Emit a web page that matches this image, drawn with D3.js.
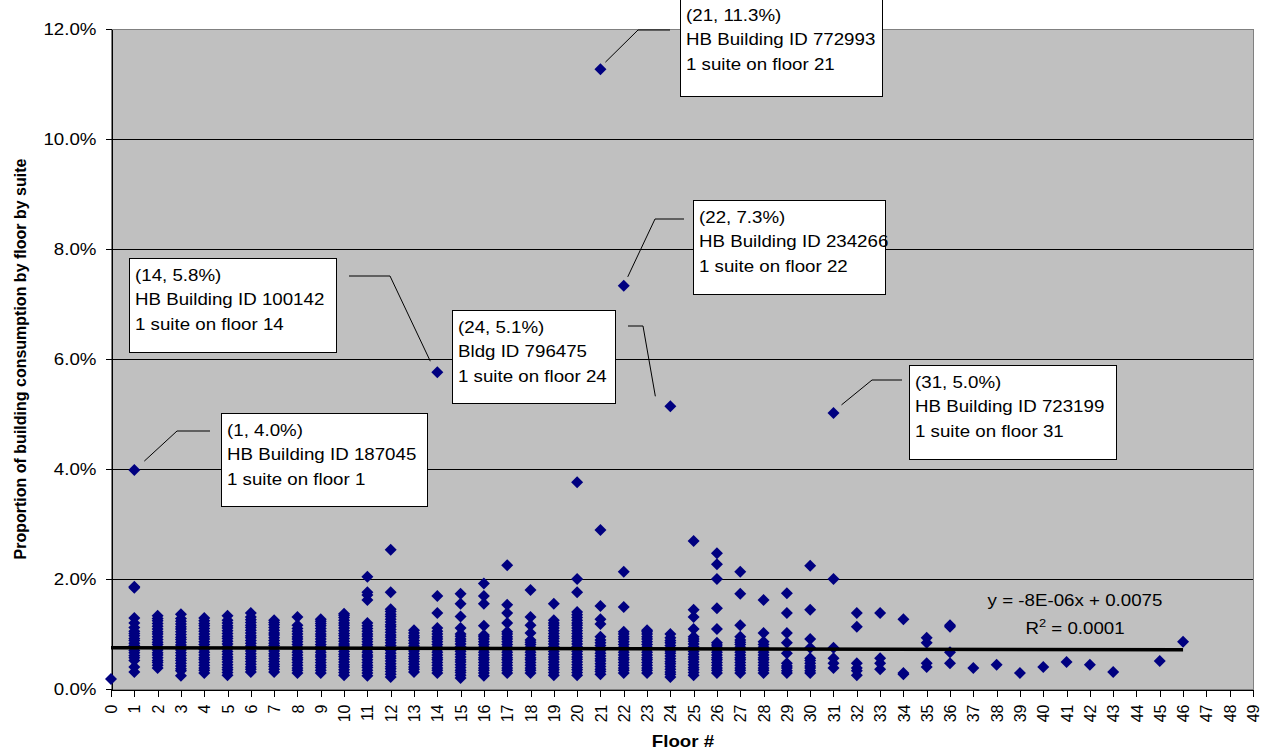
<!DOCTYPE html>
<html>
<head>
<meta charset="utf-8">
<script src="https://cdnjs.cloudflare.com/ajax/libs/d3/7.8.5/d3.min.js"></script>
<style>
    body { margin: 0; background: #fff; }
    svg text { font-family: "Liberation Sans", Arial, sans-serif; fill: #000; }
    .plot-bg { fill: #c0c0c0; stroke: #808080; stroke-width: 1px; }
    .grid line { stroke: #000; stroke-width: 1px; shape-rendering: crispEdges; }
    .axis path, .axis line { stroke: #000; stroke-width: 1px; shape-rendering: crispEdges; }
    .axis text { font-size: 16px; }
    .point { fill: #000080; }
    .trend { stroke: #000; stroke-width: 3.5px; fill: none; }
    .callout rect { fill: #fff; stroke: #000; stroke-width: 1px; shape-rendering: crispEdges; }
    .callout text { font-size: 16px; }
    .leader { stroke: #000; stroke-width: 1px; fill: none; }
    .axis-title { font-size: 16px; font-weight: bold; }
    .equation { font-size: 16px; }
</style>
</head>
<body>
<svg id="chart" width="1262" height="756"></svg>
<script>
    // floors and the share of building consumption (%) of each suite on that floor
    const floorNumbers = [0, 1, 2, 3, 4, 5, 6, 7, 8, 9, 10, 11, 12, 13, 14, 15, 16, 17, 18, 19, 20, 21, 22, 23,
        24, 25, 26, 27, 28, 29, 30, 31, 32, 33, 34, 35, 36, 37, 38, 39, 40, 41, 42, 43, 44, 45, 46];
    const suiteShares = [
        [0.18],
        [0.31, 0.40, 0.52, 0.57, 0.61, 0.66, 0.70, 0.74, 0.79, 0.83, 0.88, 0.92, 0.97, 1.01, 1.05, 1.12, 1.20, 1.29, 1.84, 1.86, 3.98],
        [0.38, 0.43, 0.48, 0.52, 0.57, 0.62, 0.66, 0.71, 0.76, 0.81, 0.85, 0.90, 0.95, 1.00, 1.04, 1.09, 1.14, 1.19, 1.24, 1.28, 1.33],
        [0.24, 0.33, 0.37, 0.42, 0.47, 0.52, 0.56, 0.61, 0.66, 0.71, 0.75, 0.80, 0.85, 0.90, 0.94, 0.99, 1.04, 1.09, 1.13, 1.18, 1.23, 1.28, 1.36],
        [0.29, 0.34, 0.38, 0.43, 0.48, 0.53, 0.57, 0.62, 0.67, 0.72, 0.76, 0.81, 0.86, 0.91, 0.95, 1.00, 1.05, 1.10, 1.15, 1.19, 1.24, 1.29],
        [0.25, 0.30, 0.35, 0.39, 0.44, 0.49, 0.54, 0.58, 0.63, 0.68, 0.73, 0.77, 0.82, 0.87, 0.92, 0.96, 1.01, 1.06, 1.11, 1.15, 1.20, 1.25, 1.33],
        [0.31, 0.36, 0.40, 0.45, 0.50, 0.55, 0.59, 0.64, 0.69, 0.74, 0.78, 0.83, 0.88, 0.93, 0.97, 1.02, 1.07, 1.12, 1.16, 1.21, 1.26, 1.31, 1.38],
        [0.31, 0.36, 0.41, 0.45, 0.50, 0.55, 0.60, 0.64, 0.69, 0.74, 0.79, 0.83, 0.88, 0.93, 0.98, 1.02, 1.07, 1.12, 1.17, 1.21, 1.25],
        [0.29, 0.34, 0.38, 0.43, 0.48, 0.53, 0.57, 0.62, 0.67, 0.72, 0.76, 0.81, 0.86, 0.91, 0.95, 1.00, 1.05, 1.10, 1.16, 1.31],
        [0.29, 0.34, 0.39, 0.43, 0.48, 0.53, 0.58, 0.62, 0.67, 0.72, 0.77, 0.81, 0.86, 0.91, 0.96, 1.00, 1.05, 1.10, 1.15, 1.19, 1.23, 1.27],
        [0.25, 0.30, 0.35, 0.40, 0.44, 0.49, 0.54, 0.59, 0.63, 0.68, 0.73, 0.78, 0.82, 0.87, 0.92, 0.97, 1.01, 1.06, 1.11, 1.16, 1.20, 1.25, 1.30, 1.34, 1.37],
        [0.24, 0.29, 0.34, 0.39, 0.43, 0.48, 0.53, 0.58, 0.62, 0.67, 0.72, 0.77, 0.81, 0.86, 0.91, 0.96, 1.00, 1.05, 1.10, 1.15, 1.20, 1.62, 1.71, 1.76, 2.04],
        [0.22, 0.27, 0.32, 0.37, 0.41, 0.46, 0.51, 0.56, 0.60, 0.65, 0.70, 0.75, 0.79, 0.84, 0.89, 0.94, 0.98, 1.03, 1.08, 1.13, 1.17, 1.22, 1.27, 1.32, 1.36, 1.41, 1.45, 1.76, 2.53],
        [0.31, 0.36, 0.40, 0.45, 0.50, 0.55, 0.59, 0.64, 0.69, 0.74, 0.78, 0.83, 0.88, 0.93, 0.97, 1.02, 1.07],
        [0.29, 0.34, 0.38, 0.43, 0.48, 0.53, 0.57, 0.62, 0.67, 0.72, 0.76, 0.81, 0.86, 0.91, 0.95, 1.00, 1.05, 1.11, 1.38, 1.69, 5.76],
        [0.20, 0.25, 0.30, 0.34, 0.39, 0.44, 0.49, 0.53, 0.58, 0.63, 0.68, 0.72, 0.77, 0.82, 0.87, 0.91, 0.96, 1.00, 1.11, 1.32, 1.55, 1.73],
        [0.24, 0.29, 0.34, 0.38, 0.43, 0.48, 0.53, 0.57, 0.62, 0.67, 0.72, 0.76, 0.81, 0.86, 0.91, 0.95, 0.98, 1.15, 1.55, 1.69, 1.92],
        [0.29, 0.34, 0.38, 0.43, 0.48, 0.53, 0.57, 0.62, 0.67, 0.72, 0.76, 0.81, 0.86, 0.91, 0.95, 1.00, 1.04, 1.20, 1.38, 1.53, 2.25],
        [0.29, 0.34, 0.38, 0.43, 0.48, 0.53, 0.57, 0.62, 0.67, 0.72, 0.76, 0.81, 0.85, 0.89, 1.02, 1.16, 1.31, 1.80],
        [0.25, 0.30, 0.35, 0.39, 0.44, 0.49, 0.54, 0.58, 0.63, 0.68, 0.73, 0.77, 0.82, 0.87, 0.92, 0.96, 1.01, 1.06, 1.11, 1.16, 1.20, 1.25, 1.55],
        [0.25, 0.30, 0.35, 0.39, 0.44, 0.49, 0.54, 0.58, 0.63, 0.68, 0.73, 0.77, 0.82, 0.87, 0.92, 0.96, 1.01, 1.06, 1.11, 1.16, 1.20, 1.25, 1.30, 1.35, 1.40, 1.76, 2.00, 3.76],
        [0.27, 0.32, 0.36, 0.41, 0.46, 0.51, 0.55, 0.60, 0.65, 0.70, 0.74, 0.79, 0.84, 0.89, 0.95, 1.18, 1.27, 1.51, 2.89, 11.27],
        [0.29, 0.34, 0.38, 0.43, 0.48, 0.53, 0.57, 0.62, 0.67, 0.72, 0.76, 0.81, 0.86, 0.91, 0.95, 1.00, 1.04, 1.49, 2.13, 7.33],
        [0.29, 0.34, 0.38, 0.43, 0.48, 0.53, 0.57, 0.62, 0.67, 0.72, 0.76, 0.81, 0.86, 0.91, 0.95, 1.00, 1.04, 1.07],
        [0.22, 0.27, 0.31, 0.36, 0.41, 0.46, 0.50, 0.55, 0.60, 0.65, 0.69, 0.74, 0.79, 0.84, 0.88, 0.93, 1.00, 5.14],
        [0.25, 0.30, 0.35, 0.39, 0.44, 0.49, 0.54, 0.58, 0.63, 0.68, 0.73, 0.77, 0.82, 0.87, 0.91, 0.95, 1.09, 1.31, 1.44, 2.69],
        [0.29, 0.34, 0.38, 0.43, 0.48, 0.53, 0.57, 0.62, 0.67, 0.72, 0.76, 0.80, 0.84, 1.09, 1.47, 2.00, 2.27, 2.47],
        [0.29, 0.34, 0.38, 0.43, 0.48, 0.53, 0.57, 0.62, 0.67, 0.72, 0.76, 0.81, 0.85, 0.89, 0.95, 1.16, 1.73, 2.13],
        [0.29, 0.34, 0.38, 0.43, 0.48, 0.53, 0.57, 0.62, 0.67, 0.72, 0.76, 0.81, 0.86, 1.02, 1.62],
        [0.29, 0.33, 0.38, 0.42, 0.47, 0.65, 0.84, 1.02, 1.38, 1.74],
        [0.29, 0.33, 0.38, 0.42, 0.47, 0.52, 0.56, 0.75, 0.91, 1.44, 2.24],
        [0.38, 0.47, 0.56, 0.75, 2.00, 5.02],
        [0.25, 0.33, 0.38, 0.47, 1.13, 1.38],
        [0.36, 0.47, 0.56, 1.38],
        [0.27, 0.29, 1.27],
        [0.40, 0.47, 0.84, 0.93],
        [0.47, 0.67, 1.13, 1.16],
        [0.38],
        [0.44],
        [0.29],
        [0.40],
        [0.49],
        [0.44],
        [0.31],
        [],
        [0.51],
        [0.86]
    ];
    const yTicks = [0, 2, 4, 6, 8, 10, 12];
    const xTicks = [0, 1, 2, 3, 4, 5, 6, 7, 8, 9, 10, 11, 12, 13, 14, 15, 16, 17, 18, 19, 20, 21, 22, 23, 24,
        25, 26, 27, 28, 29, 30, 31, 32, 33, 34, 35, 36, 37, 38, 39, 40, 41, 42, 43, 44, 45, 46, 47, 48, 49];

    // linear trend (fraction units) and the floors it covers
    const trendSlope = -8e-6;
    const trendIntercept = 0.0075;
    const trendFloors = [0, 46];
    const equationLines = ["y = -8E-06x + 0.0075", "R2 = 0.0001"];

    // labelled outliers
    const calloutFloors = [21, 22, 14, 24, 1, 31];
    const calloutShares = [11.27, 7.33, 5.76, 5.14, 3.98, 5.02];
    const calloutTexts = [
        ["(21, 11.3%)", "HB Building ID 772993", "1 suite on floor 21"],
        ["(22, 7.3%)", "HB Building ID 234266", "1 suite on floor 22"],
        ["(14, 5.8%)", "HB Building ID 100142", "1 suite on floor 14"],
        ["(24, 5.1%)", "Bldg ID 796475", "1 suite on floor 24"],
        ["(1, 4.0%)", "HB Building ID 187045", "1 suite on floor 1"],
        ["(31, 5.0%)", "HB Building ID 723199", "1 suite on floor 31"]
    ];

    // layout of the callout boxes (pixels) and their leader lines
    const calloutBoxes = [
        { x: 680, y: -2, w: 202, h: 98, start: [5, -7], elbow: [638, 30], end: [670, 30] },
        { x: 693, y: 200, w: 192, h: 94, start: [4, -9], elbow: [655, 219], end: [684, 219] },
        { x: 129, y: 258, w: 207, h: 94, start: [-7, -11], elbow: [390, 276], end: [349, 276] },
        { x: 452, y: 310, w: 163, h: 93, start: [-15, -10], elbow: [643, 326], end: [628, 326] },
        { x: 221, y: 413, w: 206, h: 93, start: [10, -9], elbow: [177, 431], end: [210, 431] },
        { x: 909, y: 365, w: 207, h: 94, start: [8, -8], elbow: [872, 380], end: [902, 380] }
    ];

    const SX = 1.17; // horizontal text stretch of the original rendering
    const svg = d3.select("#chart");
    const plot = { left: 111, right: 1253, top: 29, bottom: 689 };

    const x = d3.scaleLinear().domain([0, 49]).range([plot.left, plot.right]);
    const y = d3.scaleLinear().domain([0, 12]).range([plot.bottom, plot.top]);

    // plot area
    svg.append("rect")
        .attr("class", "plot-bg")
        .attr("x", plot.left + 0.5)
        .attr("y", plot.top + 0.5)
        .attr("width", plot.right - plot.left)
        .attr("height", plot.bottom - plot.top);

    // gridlines
    svg.append("g")
        .attr("class", "grid")
        .selectAll("line")
        .data(yTicks.filter(d => d > 0 && d < 12))
        .enter()
        .append("line")
        .attr("x1", plot.left)
        .attr("x2", plot.right)
        .attr("y1", d => Math.round(y(d)) + 0.5)
        .attr("y2", d => Math.round(y(d)) + 0.5);

    // y axis
    const yAxis = svg.append("g")
        .attr("class", "axis")
        .attr("transform", `translate(${plot.left + 0.5},0)`)
        .call(d3.axisLeft(y).tickValues(yTicks).tickSize(6).tickSizeOuter(0).tickFormat(d => d.toFixed(1) + "%"));
    yAxis.selectAll("text")
        .attr("x", null)
        .attr("dy", "0.35em")
        .attr("transform", `translate(-15,0) scale(${SX},1)`);

    // x axis
    const xAxis = svg.append("g")
        .attr("class", "axis")
        .attr("transform", `translate(0,${plot.bottom + 0.5})`)
        .call(d3.axisBottom(x).tickValues(xTicks).tickSize(7).tickSizeOuter(0).tickFormat(d => d));
    xAxis.selectAll("text")
        .attr("y", null)
        .attr("x", -15)
        .attr("dy", "0.35em")
        .style("text-anchor", "end")
        .attr("transform", "rotate(-90)");

    // points
    const points = floorNumbers.flatMap((f, i) => suiteShares[i].map(v => ({ floor: f, share: v })));
    const diamond = "M0,-6L6,0L0,6L-6,0Z";
    svg.append("g")
        .selectAll("path")
        .data(points)
        .enter()
        .append("path")
        .attr("class", "point")
        .attr("d", diamond)
        .attr("transform", d => `translate(${x(d.floor)},${y(d.share)})`);

    // trend line
    const trendLine = d3.line()
        .x(d => x(d))
        .y(d => y((trendSlope * d + trendIntercept) * 100));
    svg.append("path")
        .attr("class", "trend")
        .attr("d", trendLine(trendFloors));

    // trend equation
    const eq = svg.append("g").attr("class", "equation");
    eq.append("text")
        .attr("text-anchor", "middle")
        .attr("transform", `translate(1075,606) scale(${SX},1)`)
        .text(equationLines[0]);
    const r2 = eq.append("text")
        .attr("text-anchor", "middle")
        .attr("transform", `translate(1075,634) scale(${SX},1)`);
    r2.append("tspan").text("R");
    r2.append("tspan").attr("dy", -7).style("font-size", "11px").text("2");
    r2.append("tspan").attr("dy", 7).text(equationLines[1].slice(2));

    // leader lines and callouts
    calloutBoxes.forEach((b, i) => {
        const mx = x(calloutFloors[i]), my = y(calloutShares[i]);
        svg.append("polyline")
            .attr("class", "leader")
            .attr("points", [[mx + b.start[0], my + b.start[1]], b.elbow, b.end].map(p => p.join(",")).join(" "));
        const g = svg.append("g").attr("class", "callout");
        g.append("rect")
            .attr("x", b.x + 0.5)
            .attr("y", b.y + 0.5)
            .attr("width", b.w)
            .attr("height", b.h);
        calloutTexts[i].forEach((t, j) => {
            g.append("text")
                .attr("dy", "0.35em")
                .attr("transform", `translate(${b.x + 6},${b.y + 17 + j * 24.5}) scale(${SX},1)`)
                .text(t);
        });
    });

    // axis titles
    svg.append("text")
        .attr("class", "axis-title")
        .attr("text-anchor", "middle")
        .attr("transform", "translate(26,359) rotate(-90)")
        .text("Proportion of building consumption by floor by suite");
    svg.append("text")
        .attr("class", "axis-title")
        .attr("text-anchor", "middle")
        .attr("transform", `translate(683,747) scale(${SX},1)`)
        .text("Floor #");
</script>
</body>
</html>
